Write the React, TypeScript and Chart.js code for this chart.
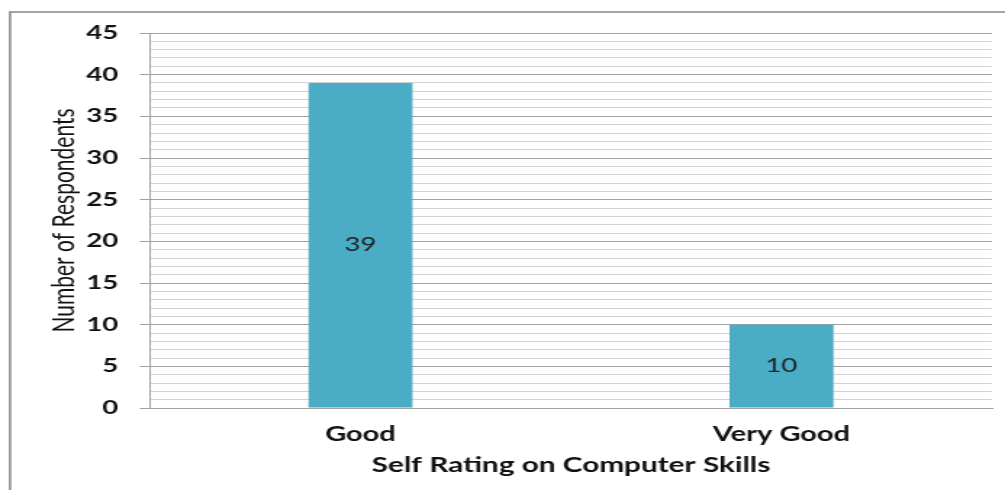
import React, { useEffect, useRef } from "react";
import { Chart, registerables } from "chart.js";

Chart.register(...registerables);

const categories = ["Good", "Very Good"];
const respondents = [39, 10];
const yTitle = "Number of Respondents";
const xTitle = "Self Rating on Computer Skills";

const K = 1.45; // horizontal stretch of the original picture
const W = 1005;
const H = 490;
const IW = Math.round(W / K);

const frame = {
  id: "frame",
  beforeDraw(chart: any) {
    const ctx = chart.ctx;
    ctx.save();
    ctx.fillStyle = "#ffffff";
    ctx.fillRect(0, 0, chart.width, chart.height);
    ctx.strokeStyle = "#8f8f8f";
    ctx.lineWidth = 1.6;
    ctx.strokeRect(10 / K, 12, 2000, 2000);
    ctx.restore();
  },
};

const valueLabels = {
  id: "valueLabels",
  afterDatasetsDraw(chart: any) {
    const ctx = chart.ctx;
    const meta = chart.getDatasetMeta(0);
    ctx.save();
    ctx.font = "19px Lato";
    ctx.fillStyle = "#222";
    ctx.textAlign = "center";
    ctx.textBaseline = "middle";
    meta.data.forEach((bar: any, i: number) => {
      ctx.fillText(String(respondents[i]), bar.x, (bar.y + bar.base) / 2);
    });
    ctx.restore();
  },
};

export default function App() {
  const ref = useRef<HTMLCanvasElement>(null);
  useEffect(() => {
    document.body.style.margin = "0";
    const canvas = ref.current!;
    const chart = new Chart(canvas, {
      type: "bar",
      data: {
        labels: categories,
        datasets: [
          {
            data: respondents,
            backgroundColor: "#4bacc6",
            categoryPercentage: 1,
            barPercentage: 0.247,
          },
        ],
      },
      options: {
        animation: false,
        responsive: false,
        devicePixelRatio: 1,
        layout: { padding: { top: 33, right: 9, left: 0, bottom: 0 } },
        plugins: { legend: { display: false }, tooltip: { enabled: false } },
        scales: {
          x: {
            grid: { display: false, drawTicks: false },
            border: { display: true, color: "#a0a0a0", width: 1 },
            ticks: {
              padding: 15,
              color: "#111",
              font: { family: "Lato", size: 20, weight: "bold" },
            },
            title: {
              display: true,
              text: xTitle,
              color: "#111",
              font: { family: "Lato", size: 20.5, weight: "bold" },
              padding: { top: 0, bottom: 12 },
            },
            afterFit(scale: any) {
              scale.height = 82;
            },
          },
          y: {
            min: 0,
            max: 45,
            grid: {
              color: (c: any) => (c.tick && c.tick.value % 5 === 0 ? "#a0a0a0" : "#d2d2d2"),
              tickColor: (c: any) => (c.tick && c.tick.value % 5 === 0 ? "#a0a0a0" : "rgba(0,0,0,0)"),
              tickLength: 7,
              lineWidth: 1,
            },
            border: { display: true, color: "#a0a0a0", width: 1 },
            ticks: {
              stepSize: 1,
              autoSkip: false,
              padding: 15,
              color: "#111",
              font: { family: "Lato", size: 19, weight: "bold" },
              callback: (v: any) => (Number(v) % 5 === 0 ? String(v) : ""),
            },
            title: {
              display: true,
              text: yTitle,
              color: "#111",
              font: { family: "Lato", size: 21 },
              padding: { top: 32, bottom: 0 },
            },
            afterFit(scale: any) {
              scale.width = 150 / K;
            },
          },
        },
      },
      plugins: [frame, valueLabels],
    });
    return () => chart.destroy();
  }, []);
  return (
    <canvas
      ref={ref}
      width={IW}
      height={H}
      style={{ display: "block", width: W + "px", height: H + "px" }}
    />
  );
}
